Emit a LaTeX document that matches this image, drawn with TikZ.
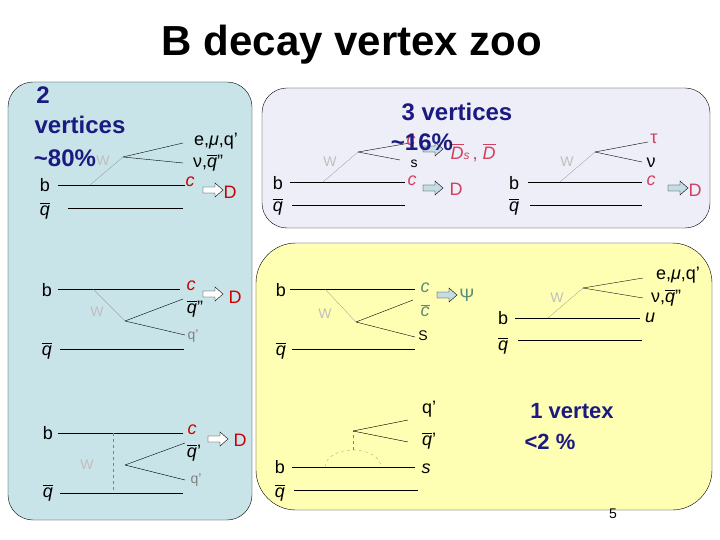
\documentclass[tikz,border=0pt]{standalone}
\usepackage{fontspec}
\setmainfont{Liberation Sans}
\usepackage{tikz}
\definecolor{panelblue}{HTML}{C8E4E8}
\definecolor{panellav}{HTML}{EEEEF8}
\definecolor{panelyel}{HTML}{FFFFB4}
\definecolor{navy}{HTML}{1A1A80}
\definecolor{cred}{HTML}{D00000}
\definecolor{cpink}{HTML}{D04060}
\definecolor{cgreen}{HTML}{5C8C7C}
\definecolor{arrowfill}{HTML}{C4DCE4}
\newcommand\labsize{\fontsize{18}{20}\selectfont}
\newcommand\smallsize{\fontsize{14}{16}\selectfont}
\newcommand\bigsize{\fontsize{24}{28}\selectfont}
% letter with a bar over it
\newcommand\barred[1]{\leavevmode\vbox{\hrule height 0.9pt width 1.0\fontdimen6\font depth 0pt\kern1.5pt\hbox{\itshape #1}}}
\newcommand\brd[1]{\setbox0\hbox{\itshape #1}\leavevmode\vbox{\hrule height 0.9pt width \wd0\kern1.5pt\box0}}
\tikzset{
  quark/.style={thin},
  wline/.style={gray, very thin},
  wlabel/.style={text=gray!50, font=\smallsize, inner sep=0pt},
  lab/.style={font=\labsize, inner sep=0pt},
  sml/.style={font=\smallsize, inner sep=0pt},
  big/.style={text=navy, font=\bfseries\bigsize, inner sep=0pt}
}
\newcommand\fatarrow[3]{% x, y, fill
  \draw[fill=#3, thin] (#1-9,#2-3) -- (#1+3,#2-3) -- (#1+3,#2-7) -- (#1+11,#2) -- (#1+3,#2+7) -- (#1+3,#2+3) -- (#1-9,#2+3) -- cycle;}
\begin{document}
\begin{tikzpicture}[x=1pt,y=-1pt]
  \useasboundingbox (0,0) rectangle (720,540);
  % Panels
  \draw [fill=panelblue, rounded corners=25] (8,82) rectangle (252,520);
  \draw [fill=panellav, rounded corners=25] (262,88) rectangle (710,228);
  \draw [fill=panelyel, rounded corners=40] (256,243) rectangle (712,510);

  % Title
  \node (title) at (352,45) {\fontsize{42}{48}\selectfont\bfseries B decay vertex zoo};

  % 2 vertices, top
  \node [big] (two) at (43,95) {2};
  \node [big] (vert2) at (80,125) {vertices};
  \node [big] (pc80) at (65,158) {\textasciitilde80\%};
  \node [lab] (b1) at (45,185) {b};
  \node [lab] (qb1) at (45,211) {\brd{q}};
  \draw [quark] (58,185) -- (185,185);
  \draw [quark] (68,208) -- (183,208);
  \draw [wline] (90,185) -- (123,157);
  \node [wlabel] (w1) at (103,161) {W};
  \draw [quark] (123,157) -- (183,143);
  \draw [quark] (123,157) -- (183,163);
  \node [lab] (l1) at (216,141) {e,\textit{μ},q'};
  \node [lab] (n1) at (208,163) {ν,\brd{q}''};
  \node [lab, text=cred] (c1) at (190,182) {\textit{c}};
  \fatarrow{212}{190}{white}
  \node [lab, text=cred] (d1) at (230,192) {D};

  % 2 vertices, middle
  \node [lab] (b2) at (47,290) {b};
  \node [lab] (qb2) at (47,351) {\brd{q}};
  \draw [quark] (58,289) -- (180,289);
  \draw [quark] (60,349) -- (184,349);
  \draw [wline] (93,289) -- (125,321);
  \node [wlabel] (w2) at (97,312) {W};
  \draw [quark] (125,321) -- (183,299);
  \draw [quark] (125,321) -- (185,335);
  \node [lab, text=cred] (c2) at (191,286) {\textit{c}};
  \node [lab] (qq2) at (195,309) {\brd{q}''};
  \node [sml, text=gray] (qp2) at (193,336) {q'};
  \fatarrow{212}{294}{white}
  \node [lab, text=cred] (d2) at (235,297) {D};

  % 2 vertices, bottom
  \node [lab] (b3) at (48,433) {b};
  \node [lab] (qb3) at (48,493) {\brd{q}};
  \draw [quark] (58,433) -- (183,433);
  \draw [quark] (60,493) -- (183,493);
  \draw [wline, dashed] (113,433) -- (113,492);
  \node [wlabel] (w3) at (87,465) {W};
  \draw [quark] (125,465) -- (185,443);
  \draw [quark] (125,465) -- (185,480);
  \node [lab, text=cred] (c3) at (192,430) {\textit{c}};
  \node [lab] (qq3) at (194,453) {\brd{q}'};
  \node [sml, text=gray] (qp3) at (196,480) {q'};
  \fatarrow{217}{439}{white}
  \node [lab, text=cred] (d3) at (240,440) {D};

  % 3 vertices, left
  \node [big] (vert3) at (457,112) {3 vertices};
  \node [lab] (b4) at (278,183) {b};
  \node [lab] (qb4) at (278,207) {\brd{q}};
  \draw [quark] (290,182) -- (405,182);
  \draw [quark] (292,205) -- (405,205);
  \draw [wline] (323,182) -- (358,152);
  \node [wlabel] (w4) at (330,162) {W};
  \draw [quark] (358,152) -- (410,143);
  \draw [quark] (358,152) -- (400,160);
  \node [lab, text=cpink] (c4a) at (411,141) {\textit{c}};
  \fatarrow{432}{149}{arrowfill}
  \node [lab, text=cpink] (ds4) at (473,153) {\brd{D}\textit{\fontsize{12}{14}\selectfont s}\,, \brd{D}};
  \node [sml] (s4) at (414,164) {s};
  \node [big] (pc16) at (422,142) {\textasciitilde16\%};
  \node [lab, text=cpink] (c4) at (412,181) {\textit{c}};
  \fatarrow{432}{188}{arrowfill}
  \node [lab, text=cpink] (d4) at (456,189) {D};

  % 3 vertices, right
  \node [lab] (b5) at (514,183) {b};
  \node [lab] (qb5) at (514,207) {\brd{q}};
  \draw [quark] (528,182) -- (642,182);
  \draw [quark] (530,205) -- (642,205);
  \draw [wline] (560,182) -- (595,152);
  \node [wlabel] (w5) at (567,162) {W};
  \draw [quark] (595,152) -- (648,142);
  \draw [quark] (595,152) -- (642,162);
  \node [lab, text=cpink] (t5) at (654,139) {τ};
  \node [lab] (n5) at (651,163) {ν};
  \node [lab, text=cpink] (c5) at (651,181) {\textit{c}};
  \fatarrow{677}{188}{arrowfill}
  \node [lab, text=cpink] (d5) at (695,190) {D};

  % 3 vertices, charmonium
  \node [lab] (b6) at (281,290) {b};
  \node [lab] (qb6) at (281,351) {\brd{q}};
  \draw [quark] (290,289) -- (415,289);
  \draw [quark] (292,349) -- (415,349);
  \draw [wline] (325,289) -- (356,322);
  \node [wlabel] (w6) at (325,314) {W};
  \draw [quark] (356,322) -- (413,300);
  \draw [quark] (356,322) -- (415,337);
  \node [lab, text=cgreen] (c6) at (425,288) {\textit{c}};
  \node [lab, text=cgreen] (cb6) at (425,311) {\brd{c}};
  \node [sml] (s6) at (423,336) {S};
  \fatarrow{446}{295}{arrowfill}
  \node [lab, text=cgreen] (psi6) at (467,295) {Ψ};

  % 1 vertex, b -> u
  \node [lab] (b7) at (503,318) {b};
  \node [lab] (qb7) at (503,346) {\brd{q}};
  \draw [quark] (515,318) -- (640,318);
  \draw [quark] (518,340) -- (642,340);
  \draw [wline] (548,318) -- (583,288);
  \node [wlabel] (w7) at (557,298) {W};
  \draw [quark] (583,288) -- (643,278);
  \draw [quark] (583,288) -- (643,298);
  \node [lab] (l7) at (678,275) {e,\textit{μ},q'};
  \node [lab] (n7) at (666,298) {ν,\brd{q}''};
  \node [lab] (u7) at (650,318) {\textit{u}};

  % 1 vertex, penguin
  \node [lab] (b8) at (280,467) {b};
  \node [lab] (qb8) at (280,493) {\brd{q}};
  \draw [quark] (292,467) -- (415,467);
  \draw [quark] (294,490) -- (418,490);
  \draw [wline, dashed] (325,467) arc [start angle=180, end angle=0, x radius=28, y radius=-17];
  \draw [wline, dashed] (353,450) -- (353,431);
  \draw [quark] (353,431) -- (408,420);
  \draw [quark] (353,431) -- (408,442);
  \node [lab] (qp8) at (429,409) {q'};
  \node [lab] (qq8) at (429,441) {\brd{q}'};
  \node [lab] (s8) at (426,469) {\textit{s}};

  \node [big, font=\bfseries\fontsize{22}{26}\selectfont] (one) at (572,411) {1 vertex};
  \node [big, font=\bfseries\fontsize{22}{26}\selectfont] (lt2) at (550,442) {<2 \%};
  \node [font=\smallsize] (page) at (613,514) {5};
\end{tikzpicture}
\end{document}
